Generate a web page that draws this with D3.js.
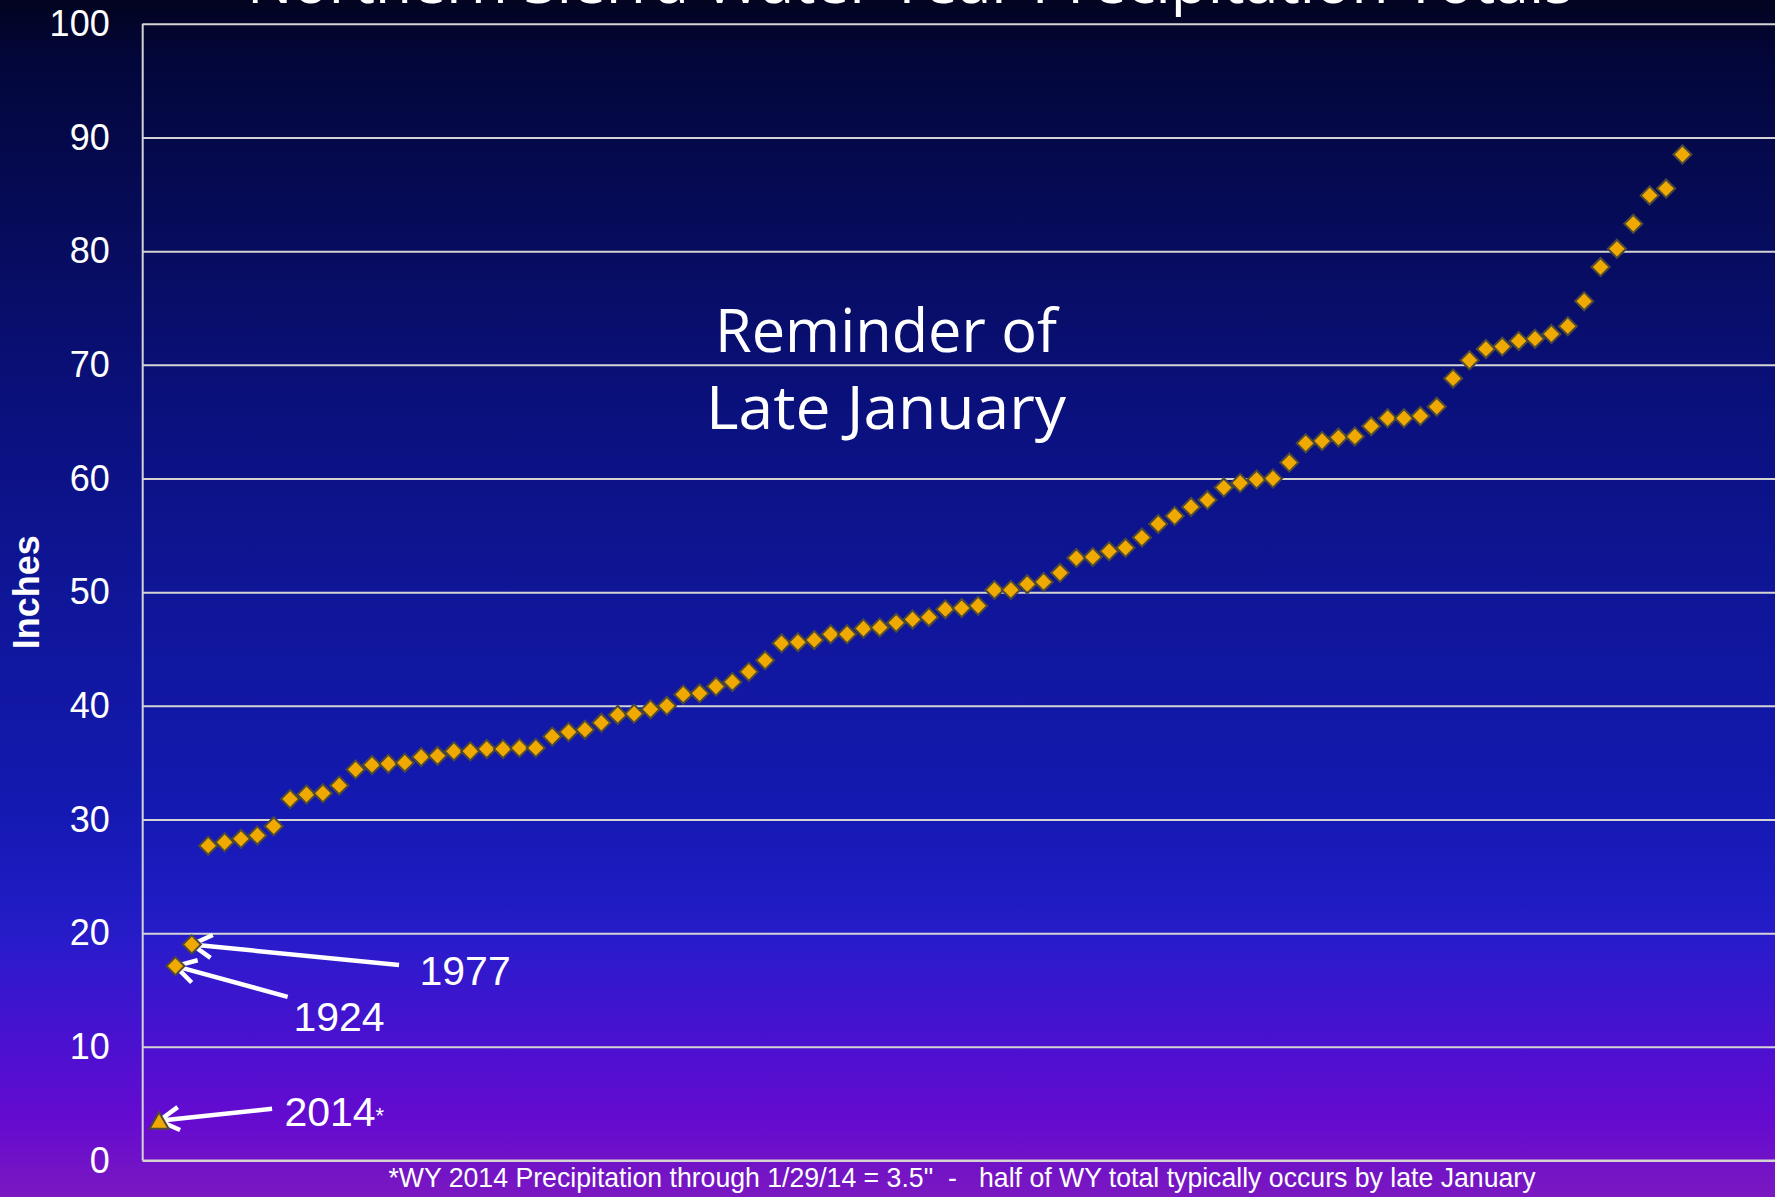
<!DOCTYPE html>
<html>
  <head>
    <script type="text/javascript" src="https://cdn.jsdelivr.net/npm/d3@7"></script>
    <style type="text/css">

html, body {
  margin: 0;
  background: #020420;
  overflow: hidden;
}

svg {
  display: block;
}

.tick text {
  fill: #fff;
  font: 36px "Liberation Sans", Arial, sans-serif;
}

    </style>
  </head>
  <body>
    <div id="chart"></div>
    <script type="text/javascript">

// Water year totals (inches), 1921-2013, sorted from driest to wettest
var sortedTotals = [
  17.1, 19.0, 27.7, 28.0, 28.3, 28.6, 29.4, 31.8, 32.2, 32.3,
  33.0, 34.4, 34.8, 34.9, 35.0, 35.5, 35.6, 36.0, 36.0, 36.2,
  36.2, 36.3, 36.3, 37.3, 37.7, 37.9, 38.5, 39.2, 39.3, 39.7,
  40.0, 41.0, 41.1, 41.7, 42.1, 43.0, 44.0, 45.5, 45.6, 45.8,
  46.3, 46.3, 46.8, 46.9, 47.3, 47.6, 47.8, 48.5, 48.6, 48.8,
  50.2, 50.2, 50.7, 50.9, 51.7, 53.0, 53.1, 53.6, 53.9, 54.8,
  56.0, 56.7, 57.5, 58.1, 59.2, 59.6, 59.9, 60.0, 61.4, 63.1,
  63.3, 63.6, 63.7, 64.6, 65.3, 65.3, 65.5, 66.3, 68.8, 70.4,
  71.4, 71.6, 72.1, 72.3, 72.7, 73.4, 75.6, 78.6, 80.2, 82.4,
  84.9, 85.5, 88.5
];

// WY 2014 through 1/29/14, plotted in the first slot
var wy2014 = 3.5;

var yTicks = [0, 10, 20, 30, 40, 50, 60, 70, 80, 90, 100];

var width = 1775,
    height = 1197,
    plotLeft = 142.7,
    plotTop = 23.8,
    plotBottom = 1160.5;

var svg = d3.select("#chart").append("svg")
    .attr("width", width)
    .attr("height", height);

// slide background
var grad = svg.append("defs").append("linearGradient")
    .attr("id", "bg")
    .attr("x1", 0).attr("y1", 0).attr("x2", 0).attr("y2", 1);

[[0, "#020420"], [0.05, "#03063a"], [0.17, "#060b56"], [0.33, "#0a107a"],
 [0.5, "#0f1698"], [0.67, "#1419b0"], [0.75, "#1e1cc2"], [0.79, "#2a1bcb"],
 [0.88, "#4e10d0"], [0.935, "#650bd0"], [1, "#7a18c0"]].forEach(function(s) {
  grad.append("stop").attr("offset", s[0]).attr("stop-color", s[1]);
});

svg.append("rect")
    .attr("width", width)
    .attr("height", height)
    .attr("fill", "url(#bg)");

var x = d3.scaleLinear().domain([0, 99.65]).range([plotLeft, width]);
var y = d3.scaleLinear().domain([0, 100]).range([plotBottom, plotTop]);

// gridlines
svg.append("g")
    .attr("transform", "translate(" + plotLeft + ",0)")
    .call(d3.axisLeft(y).tickValues(yTicks).tickSize(-(width - plotLeft)).tickFormat(""))
    .call(function(g) { g.select(".domain").remove(); })
    .selectAll("line")
    .attr("stroke", "#d4d4d4")
    .attr("stroke-width", 2);

// tick labels
svg.append("g")
    .attr("transform", "translate(" + plotLeft + ",0)")
    .call(d3.axisLeft(y).tickValues(yTicks).tickSize(0).tickPadding(33))
    .call(function(g) { g.select(".domain").remove(); });

// axis lines
svg.append("line")
    .attr("x1", plotLeft).attr("x2", plotLeft)
    .attr("y1", plotTop).attr("y2", plotBottom)
    .attr("stroke", "#d4d4d4").attr("stroke-width", 2);
svg.append("line")
    .attr("x1", plotLeft).attr("x2", width)
    .attr("y1", plotBottom).attr("y2", plotBottom)
    .attr("stroke", "#d4d4d4").attr("stroke-width", 2);

svg.append("text")
    .attr("transform", "translate(39," + ((plotTop + plotBottom) / 2) + ") rotate(-90)")
    .attr("text-anchor", "middle")
    .attr("fill", "#fff")
    .style("font", "bold 36px 'Liberation Sans', Arial, sans-serif")
    .text("Inches");

// title, mostly off the top of the slide
svg.append("text")
    .attr("x", 910)
    .attr("y", 3)
    .attr("text-anchor", "middle")
    .attr("fill", "#fff")
    .attr("textLength", 1326)
    .attr("lengthAdjust", "spacingAndGlyphs")
    .style("font", "58px 'Open Sans', sans-serif")
    .text("Northern Sierra Water Year Precipitation Totals");

// reminder text
var reminder = svg.append("text")
    .attr("text-anchor", "middle")
    .attr("fill", "#fff")
    .style("font", "60px 'Open Sans', sans-serif");
reminder.append("tspan").attr("x", 886).attr("y", 352)
    .attr("textLength", 342).attr("lengthAdjust", "spacingAndGlyphs")
    .text("Reminder of");
reminder.append("tspan").attr("x", 886).attr("y", 429)
    .attr("textLength", 360).attr("lengthAdjust", "spacingAndGlyphs")
    .text("Late January");

// callouts: label start / arrow tail in data units, arrow tip on the point
var callouts = [
  {label: "1977", rank: 3, value: sortedTotals[1], lx: 16.9, ly: 15.45, tx: 15.65, ty: 17.2},
  {label: "1924", rank: 2, value: sortedTotals[0], lx: 9.2, ly: 11.35, tx: 8.85, ty: 14.4},
  {label: "2014", rank: 1, value: wy2014, lx: 8.65, ly: 3.05, tx: 7.9, ty: 4.55, star: true}
];

var ann = svg.append("g");

callouts.forEach(function(c) {
  var tail = [x(c.tx), y(c.ty)],
      tip = [x(c.rank), y(c.value)];
  var dx = tip[0] - tail[0], dy = tip[1] - tail[1];
  var ang = Math.atan2(dy, dx), L = 23, a = Math.PI / 6;
  var p = d3.path();
  p.moveTo(tail[0], tail[1]);
  p.lineTo(tip[0], tip[1]);
  p.moveTo(tip[0] - L * Math.cos(ang - a), tip[1] - L * Math.sin(ang - a));
  p.lineTo(tip[0], tip[1]);
  p.lineTo(tip[0] - L * Math.cos(ang + a), tip[1] - L * Math.sin(ang + a));
  ann.append("path")
      .attr("d", p.toString())
      .attr("fill", "none")
      .attr("stroke", "#fff")
      .attr("stroke-width", 4.5)
      .attr("stroke-linejoin", "round");

  var t = ann.append("text")
      .attr("x", x(c.lx))
      .attr("y", y(c.ly))
      .attr("fill", "#fff")
      .style("font", "41px 'Liberation Sans', Arial, sans-serif")
      .text(c.label);
  if (c.star) {
    t.append("tspan")
        .attr("dy", -3)
        .style("font-size", "22px")
        .text("*");
  }
});

// markers
var marks = svg.append("g");

marks.selectAll("path.yr")
    .data(sortedTotals)
  .enter().append("path")
    .attr("class", "yr")
    .attr("d", d3.symbol(d3.symbolSquare, 165))
    .attr("transform", function(d, i) {
      return "translate(" + x(i + 2) + "," + y(d) + ") rotate(45)";
    })
    .attr("fill", "#f0a900")
    .attr("stroke", "#4d4a3c")
    .attr("stroke-width", 2);

marks.append("path")
    .attr("d", d3.symbol(d3.symbolTriangle, 160))
    .attr("transform", "translate(" + x(1) + "," + (y(wy2014) + 2.6) + ")")
    .attr("fill", "#f0a900")
    .attr("stroke", "#4d4a3c")
    .attr("stroke-width", 2);

// footnote
svg.append("text")
    .attr("x", 962)
    .attr("y", 1187)
    .attr("text-anchor", "middle")
    .attr("fill", "#fff")
    .attr("textLength", 1147)
    .attr("lengthAdjust", "spacingAndGlyphs")
    .attr("xml:space", "preserve")
    .style("white-space", "pre")
    .style("font", "28px 'Liberation Sans Narrow', 'Liberation Sans', Arial, sans-serif")
    .text("*WY 2014 Precipitation through 1/29/14 = 3.5\"  -   half of WY total typically occurs by late January");

    </script>
  </body>
</html>
